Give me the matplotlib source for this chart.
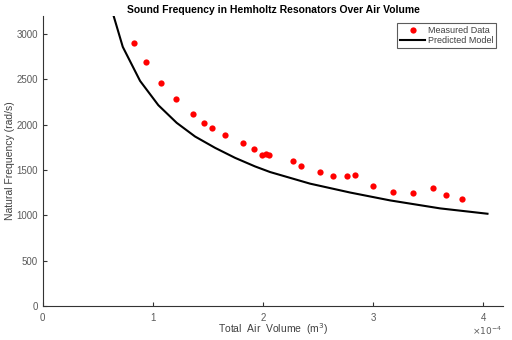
import numpy as np
import matplotlib
matplotlib.use('Agg')
import matplotlib.pyplot as plt
from matplotlib.ticker import ScalarFormatter

# measured data (volume in m^3, frequency in rad/s)
meas_volume = np.array([0.827, 0.936, 1.07, 1.212, 1.361, 1.461, 1.539, 1.652, 1.815,
                        1.915, 1.988, 2.025, 2.057, 2.27, 2.348, 2.518, 2.636, 2.761,
                        2.839, 3.0, 3.179, 3.361, 3.543, 3.661, 3.803]) * 1e-4
meas_freq = np.array([2903, 2690, 2462, 2286, 2120, 2014, 1962, 1885, 1794,
                      1731, 1668, 1676, 1661, 1599, 1540, 1481, 1433, 1433,
                      1441, 1323, 1257, 1246, 1301, 1227, 1183])

# predicted model
model_volume = np.array([0.62, 0.725, 0.882, 1.048, 1.215, 1.382, 1.564, 1.745, 1.927,
                         2.064, 2.427, 2.791, 3.155, 3.609, 4.039]) * 1e-4
model_freq = np.array([3290, 2859, 2484, 2216, 2021, 1870, 1745, 1635, 1540,
                       1478, 1350, 1252, 1165, 1077, 1018])

plt.rcParams['font.family'] = ['Liberation Sans', 'DejaVu Sans']
text_col = '#404040'
tick_col = '#5a5a5a'

fig = plt.figure(figsize=(5.12, 3.4), dpi=100)
ax = fig.add_axes([43 / 512, 1 - 306 / 340, 460 / 512, 290 / 340])

ax.plot(meas_volume, meas_freq, 'o', color='red', markersize=4.5,
        markeredgewidth=0, label='Measured Data')
ax.plot(model_volume, model_freq, '-', color='black', linewidth=1.5,
        label='Predicted Model')

ax.set_xlim(0, 4.18e-4)
ax.set_ylim(0, 3200)
ax.set_xticks([0, 1e-4, 2e-4, 3e-4, 4e-4])
ax.set_yticks(np.arange(0, 3001, 500))
fmt = ScalarFormatter(useMathText=True)
fmt.set_powerlimits((-3, 3))
ax.xaxis.set_major_formatter(fmt)
ax.xaxis.get_offset_text().set_visible(False)
ax.annotate(r'$\times10^{-4}$', xy=(1, 0), xycoords='axes fraction',
            xytext=(-1, -18), textcoords='offset points', ha='right', va='center',
            fontsize=6.5, color=tick_col)

for s in ['top', 'right']:
    ax.spines[s].set_visible(False)
for s in ['left', 'bottom']:
    ax.spines[s].set_color('#333333')
    ax.spines[s].set_linewidth(0.8)
ax.tick_params(direction='in', length=3, width=0.8, colors='#333333',
               labelcolor=tick_col, labelsize=7)

ax.set_xlabel('Total  Air  Volume  (m$^3$)', fontsize=7.5, color=text_col, labelpad=-1)
ax.set_ylabel('Natural Frequency (rad/s)', fontsize=7.5, color=text_col, labelpad=1)
ax.set_title('Sound Frequency in Hemholtz Resonators Over Air Volume',
             fontsize=7.5, fontweight='bold', pad=2)

leg = ax.legend(loc='upper right', fontsize=6.5, frameon=True, fancybox=False,
                borderpad=0.3, handlelength=2.8, labelspacing=0.1,
                handletextpad=0.3, bbox_to_anchor=(0.995, 0.99))
leg.get_frame().set_edgecolor('#333333')
leg.get_frame().set_linewidth(0.8)
for t in leg.get_texts():
    t.set_color(text_col)

fig.savefig('out.png', dpi=100)
